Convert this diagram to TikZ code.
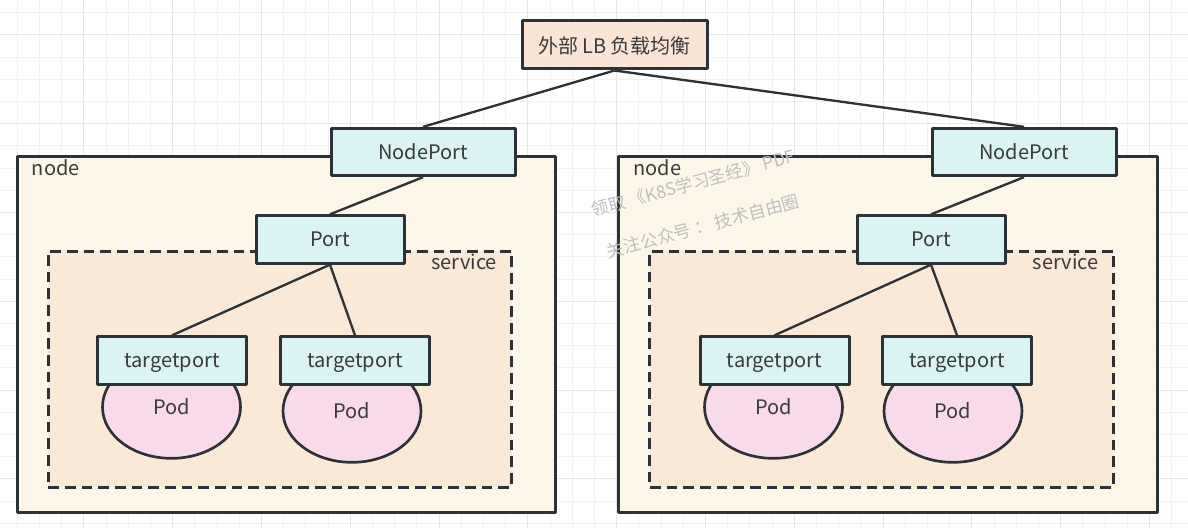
\documentclass[tikz,border=0pt]{standalone}
\usepackage{fontspec}
\setmainfont{Noto Sans CJK SC}
\usepackage{tikz}
\usetikzlibrary{shapes.geometric, arrows}
\definecolor{lineclr}{RGB}{45,50,54}
\definecolor{txtclr}{RGB}{58,58,58}
\definecolor{lbfill}{RGB}{250,228,213}
\definecolor{portfill}{RGB}{218,243,243}
\definecolor{hostfill}{RGB}{252,247,232}
\definecolor{svcfill}{RGB}{251,233,216}
\definecolor{podfill}{RGB}{249,218,234}
\definecolor{gridminor}{RGB}{242,242,242}
\definecolor{gridmajor}{RGB}{230,230,230}
\definecolor{wmclr}{RGB}{190,190,190}
\tikzstyle{lbbox} = [rectangle, minimum width=138.75pt, minimum height=36pt, text centered, text depth=0pt, draw=lineclr, line width=2.25pt, line join=round, fill=lbfill, text=txtclr]
\tikzstyle{portbox} = [rectangle, minimum height=35.5pt, text centered, text depth=0pt, draw=lineclr, line width=2.25pt, line join=round, fill=portfill, text=txtclr]
\tikzstyle{hostbox} = [rectangle, minimum width=404pt, minimum height=267pt, draw=lineclr, line width=2.25pt, line join=round, fill=hostfill]
\tikzstyle{svcbox} = [rectangle, minimum width=347.5pt, minimum height=177pt, draw=lineclr, line width=2.25pt, dash pattern=on 8pt off 4.5pt, fill=svcfill]
\tikzstyle{podbox} = [ellipse, minimum width=103.5pt, minimum height=77pt, draw=lineclr, line width=2pt, fill=podfill, text=txtclr]
\tikzstyle{caption} = [inner sep=0pt, text=txtclr]
\tikzstyle{wmtext} = [text=wmclr, rotate=15, font=\fontsize{13}{15}\selectfont]
\tikzstyle{link} = [line width=1.75pt, draw=lineclr]

\begin{document}
\begin{tikzpicture}
				[x=0.75pt, y=-0.75pt, font=\fontsize{15}{18}\selectfont]

				% background grid
				\fill[white] (0,0) rectangle (1188,528);
				\useasboundingbox (0,0) rectangle (1188,528);
				\foreach \i in {-1,...,53} \draw[gridminor, line width=0.75pt] ({17.3+22.2*\i},0) -- ({17.3+22.2*\i},528);
				\foreach \i in {0,...,23} \draw[gridminor, line width=0.75pt] (0,{12.7+22.2*\i}) -- (1188,{12.7+22.2*\i});
				\foreach \i in {0,...,12} \draw[gridmajor, line width=0.75pt] ({83.9+88.8*\i},0) -- ({83.9+88.8*\i},528);
				\foreach \i in {0,...,5} \draw[gridmajor, line width=0.75pt] (0,{34.9+88.8*\i}) -- (1188,{34.9+88.8*\i});

				\node (lb) [lbbox] at (614.5,45) {外部 LB 负载均衡};

				% left node
				\node (host1) [hostbox] at (286.5,334) {};
				\node (np1) [portbox, minimum width=138pt] at (423,152) {NodePort};
				\node (svc1) [svcbox] at (280,369) {};
				\node (port1) [portbox, minimum width=111pt] at (330,239.5) {Port};
				\node (pod1a) [podbox] at (171.5,407) {Pod};
				\node (pod1b) [podbox] at (352,411) {Pod};
				\node (tp1a) [portbox, minimum width=111.75pt] at (172,360.5) {targetport};
				\node (tp1b) [portbox, minimum width=111.75pt] at (355,360.5) {targetport};
				\node (hostlbl1) [caption, anchor=west] at ([xshift=12pt, yshift=-9.75pt]host1.north west) {node};
				\node (svclbl1) [caption, anchor=east] at ([xshift=-12pt, yshift=-9pt]svc1.north east) {service};

				% right node
				\node (host2) [hostbox] at (888,334) {};
				\node (np2) [portbox, minimum width=138pt] at (1024,152) {NodePort};
				\node (svc2) [svcbox] at (881.5,369) {};
				\node (port2) [portbox, minimum width=111pt] at (931,239.5) {Port};
				\node (pod2a) [podbox] at (773.5,407) {Pod};
				\node (pod2b) [podbox] at (953,411) {Pod};
				\node (tp2a) [portbox, minimum width=111.75pt] at (774.5,360.5) {targetport};
				\node (tp2b) [portbox, minimum width=111.75pt] at (957,360.5) {targetport};
				\node (hostlbl2) [caption, anchor=west] at ([xshift=12pt, yshift=-9.75pt]host2.north west) {node};
				\node (svclbl2) [caption, anchor=east] at ([xshift=-12pt, yshift=-9pt]svc2.north east) {service};

				% watermark
				\node (wm1) [wmtext] at (693,183) {领取 《K8S学习圣经》 PDF};
				\node (wm2) [wmtext] at (703,226) {关注公众号 ： 技术自由圈};

				\draw [link] (lb.south) -- (np1.north);
				\draw [link] (lb.south) -- (np2.north);
				\draw [link] (np1.south) -- (port1.north);
				\draw [link] (np2.south) -- (port2.north);
				\draw [link] (port1.south) -- (tp1a.north);
				\draw [link] (port1.south) -- (tp1b.north);
				\draw [link] (port2.south) -- (tp2a.north);
				\draw [link] (port2.south) -- (tp2b.north);
			\end{tikzpicture}
\end{document}
